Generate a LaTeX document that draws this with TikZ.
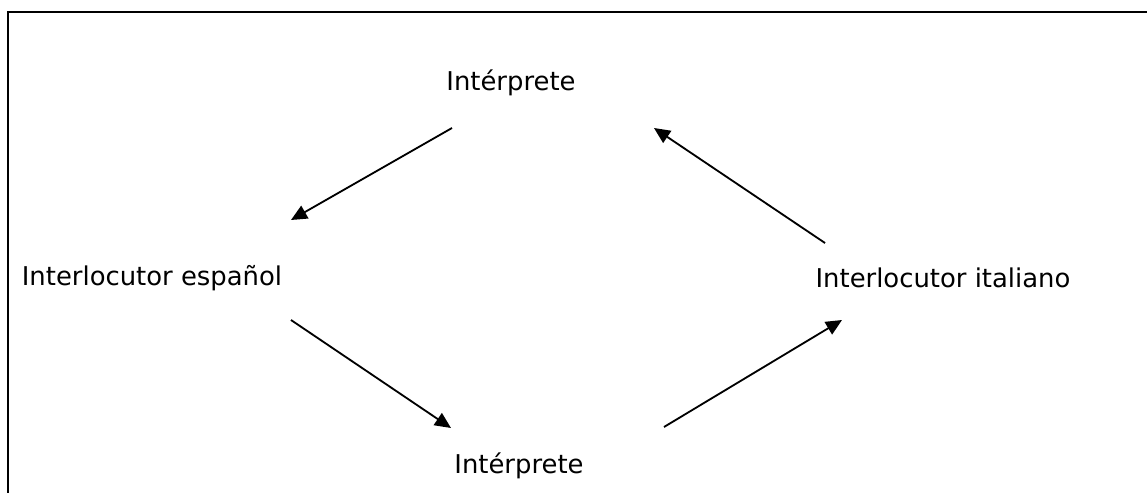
\documentclass[tikz,border=0pt]{standalone}
\usepackage{fontspec}
\setmainfont{DejaVu Sans}
\usetikzlibrary{arrows.meta, positioning}

\tikzset{
  label/.style={inner sep=0pt, font=\fontsize{18.4}{22}\selectfont},
  flow/.style={line width=1.3pt, -{Triangle[length=0.4cm, width=0.36cm]}}
}

\begin{document}
\begin{tikzpicture}[x=0.025cm, y=-0.025cm]
            \useasboundingbox (0, 0) rectangle (1147, 493);
            \draw[line width=2pt] (8, 493) -- (8, 12) -- (1147, 12);
            \node[label] (top) at (511, 83) {Intérprete};
            \node[label] (esp) at (152, 278) {Interlocutor español};
            \node[label] (ita) at (943, 278) {Interlocutor italiano};
            \node[label] (bot) at (519, 466) {Intérprete};
            \coordinate (a1) at (452, 128);
            \coordinate (b1) at (291, 220);
            \coordinate (a2) at (291, 320);
            \coordinate (b2) at (451, 428);
            \coordinate (a3) at (664, 427);
            \coordinate (b3) at (842, 320);
            \coordinate (a4) at (825, 243);
            \coordinate (b4) at (654, 128);
            \draw[flow] (a1) -- (b1);
            \draw[flow] (a2) -- (b2);
            \draw[flow] (a3) -- (b3);
            \draw[flow] (a4) -- (b4);
        \end{tikzpicture}
\end{document}
